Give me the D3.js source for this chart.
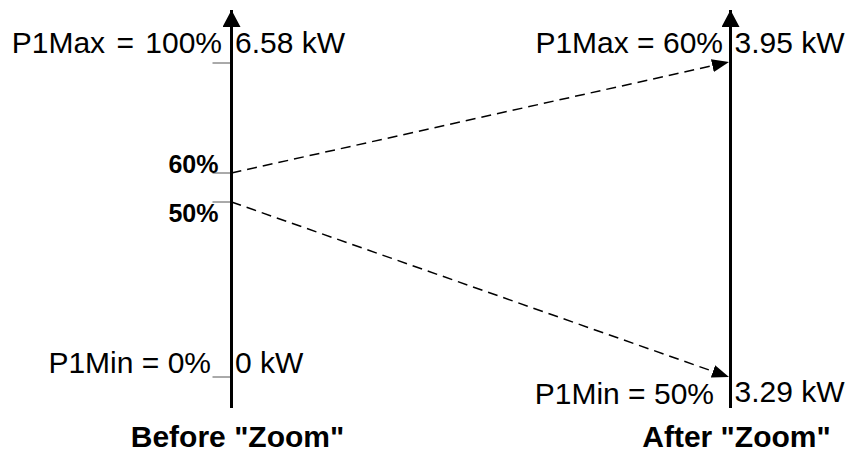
<!DOCTYPE html>
<html>
<head>
<meta charset="utf-8">
<script src="https://cdn.jsdelivr.net/npm/d3@7"></script>
<style>
  body { margin: 0; background: #fff; }
  text { font-family: "Liberation Sans", Arial, sans-serif; fill: #000; }
  .lbl { font-size: 30px; }
  .pct { font-size: 25px; font-weight: bold; }
  .title { font-size: 30px; font-weight: bold; }
</style>
</head>
<body>
<script>
// data
var titles = ['Before "Zoom"', 'After "Zoom"'];
var beforePct = [0, 50, 60, 100];
var beforeLabels = ["P1Min = 0%", "50%", "60%", "P1Max = 100%"];
var beforeKw = ["0 kW", "", "", "6.58 kW"];
var afterPct = [50, 60];
var afterLabels = ["P1Min = 50%", "P1Max = 60%"];
var afterKw = ["3.29 kW", "3.95 kW"];
var links = [60, 50];   // percent on the left mapped to the same percent on the right

var width = 853, height = 452;

var svg = d3.select("body").append("svg")
    .attr("width", width)
    .attr("height", height);

// the drawing is not to scale, so the left axis is piecewise
var x = d3.scalePoint().domain(titles).range([231.5, 730.5]);
var yBefore = d3.scaleLinear().domain(beforePct).range([377, 202, 173, 63]);
var yAfter = d3.scaleLinear().domain(afterPct).range([377, 62]);

var defs = svg.append("defs");
defs.append("marker")
    .attr("id", "axisHead")
    .attr("markerUnits", "userSpaceOnUse")
    .attr("viewBox", "0 0 17 18")
    .attr("refX", 17).attr("refY", 9)
    .attr("markerWidth", 17).attr("markerHeight", 18)
    .attr("orient", "auto")
    .append("path").attr("d", "M0,0L17,9L0,18Z").attr("fill", "#000");
defs.append("marker")
    .attr("id", "linkHead")
    .attr("markerUnits", "userSpaceOnUse")
    .attr("viewBox", "0 0 17 13")
    .attr("refX", 17).attr("refY", 6.5)
    .attr("markerWidth", 17).attr("markerHeight", 13)
    .attr("orient", "auto")
    .append("path").attr("d", "M0,0L17,6.5L0,13Z").attr("fill", "#000");

// ticks on the left axis
svg.selectAll(".tick")
    .data(beforePct)
    .enter().append("line")
    .attr("class", "tick")
    .attr("x1", x(titles[0]) - 19)
    .attr("x2", x(titles[0]))
    .attr("y1", function(d) { return yBefore(d); })
    .attr("y2", function(d) { return yBefore(d); })
    .attr("stroke", "#555")
    .attr("stroke-width", 1);

// dashed arrows
svg.selectAll(".link")
    .data(links)
    .enter().append("line")
    .attr("class", "link")
    .attr("x1", x(titles[0]))
    .attr("y1", function(d) { return yBefore(d); })
    .attr("x2", x(titles[1]) - 1.5)
    .attr("y2", function(d) { return yAfter(d); })
    .attr("stroke", "#000")
    .attr("stroke-width", 1.5)
    .attr("stroke-dasharray", "10,6")
    .attr("marker-end", "url(#linkHead)");

// the two vertical axes
titles.forEach(function(t) {
    svg.append("line")
        .attr("x1", x(t)).attr("x2", x(t))
        .attr("y1", 408).attr("y2", 10)
        .attr("stroke", "#000")
        .attr("stroke-width", 3)
        .attr("marker-end", "url(#axisHead)");
    svg.append("text")
        .attr("class", "title")
        .attr("text-anchor", "middle")
        .attr("x", x(t) + 6)
        .attr("y", 447)
        .text(t);
});

// label offsets (layout only)
var beforeLeft = [{dx: -20.5, dy: -4, cls: "lbl", ws: 0}, {dx: -13, dy: 20, cls: "pct", ws: 0},
                  {dx: -13, dy: 0, cls: "pct", ws: 0}, {dx: -9.5, dy: -10, cls: "lbl", ws: 3}];
var afterLeft = [{dx: -16.5, dy: 27}, {dx: -7.5, dy: -9}];
var afterRight = [{dy: 25}, {dy: -9}];

beforePct.forEach(function(p, i) {
    svg.append("text")
        .attr("class", beforeLeft[i].cls)
        .attr("text-anchor", "end")
        .attr("x", x(titles[0]) + beforeLeft[i].dx)
        .attr("y", yBefore(p) + beforeLeft[i].dy)
        .style("word-spacing", beforeLeft[i].ws + "px")
        .text(beforeLabels[i]);
    if (beforeKw[i] != "") {
        svg.append("text")
            .attr("class", "lbl")
            .attr("x", x(titles[0]) + 3.5)
            .attr("y", yBefore(p) + beforeLeft[i].dy)
            .text(beforeKw[i]);
    }
});

afterPct.forEach(function(p, i) {
    svg.append("text")
        .attr("class", "lbl")
        .attr("text-anchor", "end")
        .attr("x", x(titles[1]) + afterLeft[i].dx)
        .attr("y", yAfter(p) + afterLeft[i].dy)
        .text(afterLabels[i]);
    svg.append("text")
        .attr("class", "lbl")
        .attr("x", x(titles[1]) + 4)
        .attr("y", yAfter(p) + afterRight[i].dy)
        .text(afterKw[i]);
});
</script>
</body>
</html>
